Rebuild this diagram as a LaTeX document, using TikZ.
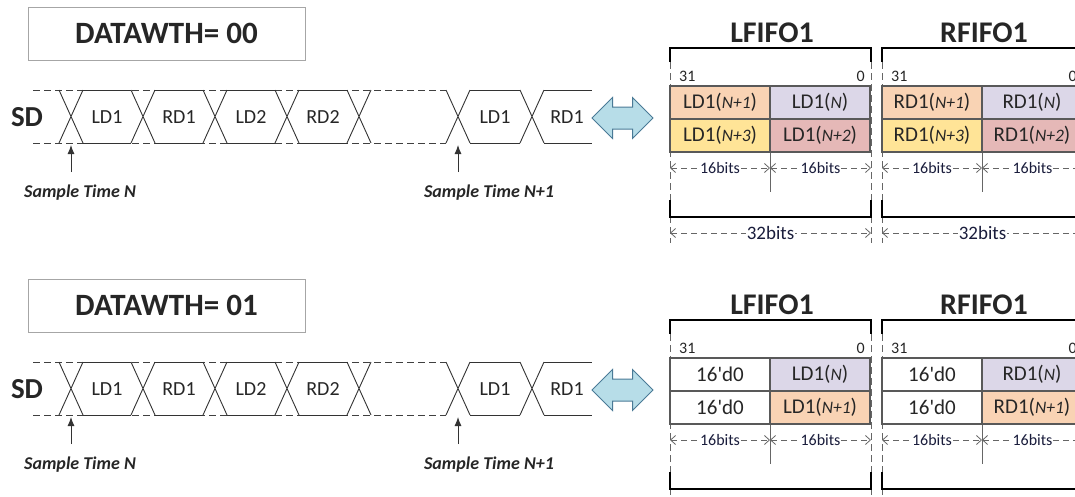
\documentclass[tikz,border=0pt]{standalone}
\usepackage{fontspec}
\setmainfont{Carlito}
\usetikzlibrary{positioning,arrows.meta,shapes.arrows}
\definecolor{peach}{HTML}{F9D3B4}
\definecolor{lilac}{HTML}{DCD7E8}
\definecolor{sand}{HTML}{FFE497}
\definecolor{rose}{HTML}{E5B8B7}
\definecolor{sky}{HTML}{B7DDE8}
\definecolor{skyline}{HTML}{4A7A96}
\definecolor{ink}{HTML}{262626}
\definecolor{dimink}{HTML}{1A1D3C}
\newcommand{\idx}[1]{\textit{\fontsize{17.5}{18}\selectfont #1}}

\begin{document}
\begin{tikzpicture}[x=1pt, y=-1pt]
    \tikzstyle{every node}=[font=\fontsize{20}{22}\selectfont, text=ink, align=center]
    \tikzset{
        title/.style={font=\fontsize{30}{32}\selectfont\bfseries},
        modebox/.style={draw=black!35, line width=0.8pt, minimum width=277pt, minimum height=53pt, inner sep=0pt},
        cell/.style={draw=black!65, line width=1.2pt, minimum width=100pt, minimum height=33pt, inner sep=0pt,
            outer sep=0pt, font=\fontsize{21}{22}\selectfont},
        wave/.style={black!80, line width=0.9pt},
        guide/.style={black!75, dash pattern=on 7pt off 4pt, line width=0.9pt},
        bracket/.style={black, line width=2.6pt},
        dimline/.style={black!60, dash pattern=on 6pt off 4pt, line width=0.8pt,
            {Straight Barb[length=5pt, width=9pt]}-{Straight Barb[length=5pt, width=9pt]}},
        bitlabel/.style={font=\fontsize{16}{17}\selectfont, text=dimink, fill=white, inner sep=1pt},
        msb/.style={font=\fontsize{16}{17}\selectfont, inner sep=0pt},
        sample/.style={font=\fontsize{18}{19}\selectfont\bfseries\itshape},
        biarrow/.style={double arrow, draw=skyline, fill=sky, line width=1pt, minimum height=61pt,
            inner xsep=0pt, inner ysep=10.5pt, double arrow head extend=9.5pt}
        }

    \useasboundingbox (0,0) rectangle (1075,496);
    \clip (0,0) rectangle (1075,496);

    \foreach \row/\dy/\mode in {a/0/00, b/272/01} {
    \begin{scope}[yshift=-\dy pt]
        %mode
        \node (mode-\row) [modebox, title, font=\fontsize{31}{32}\selectfont\bfseries] at (166.5,33.5) {DATAWTH= \mode};

        %serial data
        \node (sd-\row) [title, font=\fontsize{29}{30}\selectfont\bfseries] at (27,117) {SD};
        \draw[guide] (33,90) -- (446,90);
        \draw[guide] (33,143) -- (446,143);
        \foreach \c in {71,143,215,287,359,458,532}
            \draw[wave] ({\c-12},90) -- ({\c+12},143) ({\c-12},143) -- ({\c+12},90);
        \foreach \a/\b in {71/143,143/215,215/287,287/359,458/532}
            \draw[wave] ({\a+12},90) -- ({\b-12},90) ({\a+12},143) -- ({\b-12},143);
        \draw[wave] (544,90) -- (592,90) (544,143) -- (592,143);
        \node (ld1-\row) at (107,117) {LD1};
        \node (rd1-\row) at (179,117) {RD1};
        \node (ld2-\row) at (251,117) {LD2};
        \node (rd2-\row) at (323,117) {RD2};
        \node (ld1n-\row) at (495,117) {LD1};
        \node (rd1n-\row) at (567,117) {RD1};

        %sample points
        \coordinate (tipn-\row) at (71,145);
        \coordinate (tailn-\row) at (71,172);
        \coordinate (tipm-\row) at (458,145);
        \coordinate (tailm-\row) at (458,172);
        \node (smpn-\row) [sample] at (80,193) {Sample Time N};
        \node (smpm-\row) [sample] at (489,193) {Sample Time N+1};
        \draw[wave, -{Latex[length=9pt, width=7pt]}] (tailn-\row) -- (tipn-\row);
        \draw[wave, -{Latex[length=9pt, width=7pt]}] (tailm-\row) -- (tipm-\row);

        %link to fifo
        \node (link-\row) [biarrow] at (622.5,118) {};

        %fifo frames
        \foreach \side/\dx in {L/0, R/212} {
            \node (fifo-\side-\row) [title] at (772+\dx,33) {\side FIFO1};
            \node (msb-\side-\row) [msb, anchor=west] at (679+\dx,76) {31};
            \node (lsb-\side-\row) [msb, anchor=east] at (865+\dx,76) {0};
            \draw[guide, black!60] (670+\dx,62) -- (670+\dx,243);
            \draw[guide, black!60] (871+\dx,62) -- (871+\dx,243);
            \draw[bracket] (670+\dx,62) -- (670+\dx,48) -- (871+\dx,48) -- (871+\dx,62);
            \draw[bracket] (670+\dx,200) -- (670+\dx,217) -- (871+\dx,217) -- (871+\dx,200);
            \draw[black!60, line width=0.8pt] (770+\dx,152) -- (770+\dx,192);
            \draw[dimline] (670+\dx,168) -- node[bitlabel] {16bits} (770+\dx,168);
            \draw[dimline] (770+\dx,168) -- node[bitlabel] {16bits} (871+\dx,168);
        }
    \end{scope}
    }

    %full word width (top row only, the lower one is below the edge)
    \foreach \side/\dx in {L/0, R/212}
        \draw[dimline] (670+\dx,233) -- node[bitlabel, font=\fontsize{19}{20}\selectfont] {32bits} (871+\dx,233);

    %fifo words, DATAWTH = 00
    \foreach \side/\dx in {L/0, R/212} {
        \node (hi1-\side) [cell, fill=peach] at (720+\dx,102.5) {\side D1(\idx{N+1})};
        \node (lo1-\side) [cell, fill=lilac, right=0pt of hi1-\side] {\side D1(\idx{N})};
        \node (hi2-\side) [cell, fill=sand, below=0pt of hi1-\side] {\side D1(\idx{N+3})};
        \node (lo2-\side) [cell, fill=rose, right=0pt of hi2-\side] {\side D1(\idx{N+2})};
    }

    %fifo words, DATAWTH = 01
    \foreach \side/\dx in {L/0, R/212} {
        \node (hi3-\side) [cell, fill=white] at (720+\dx,374.5) {16\textquotesingle d0};
        \node (lo3-\side) [cell, fill=lilac, right=0pt of hi3-\side] {\side D1(\idx{N})};
        \node (hi4-\side) [cell, fill=white, below=0pt of hi3-\side] {16\textquotesingle d0};
        \node (lo4-\side) [cell, fill=peach, right=0pt of hi4-\side] {\side D1(\idx{N+1})};
    }
\end{tikzpicture}
\end{document}
